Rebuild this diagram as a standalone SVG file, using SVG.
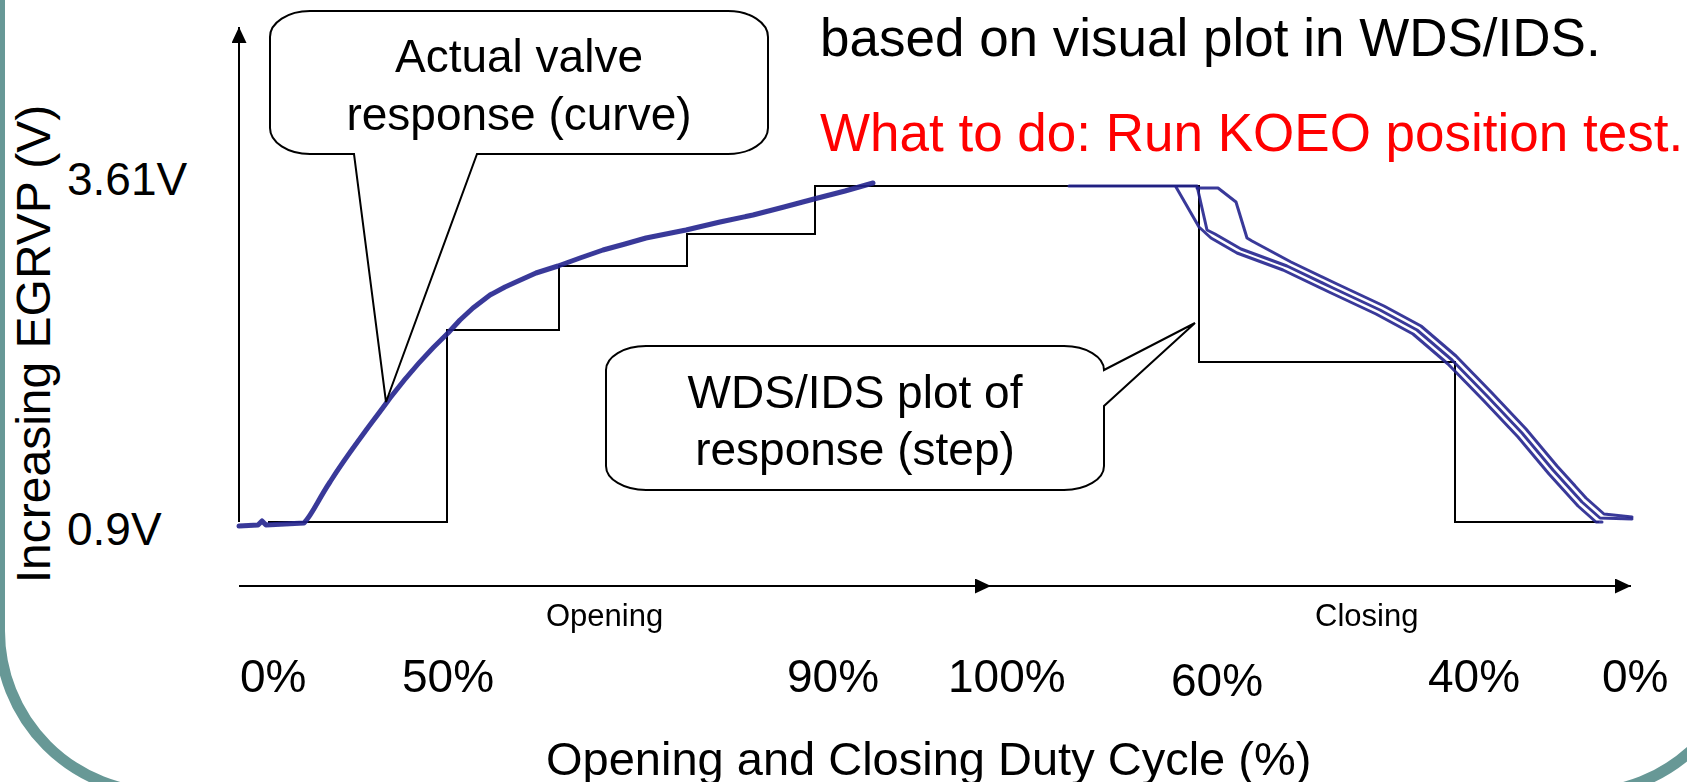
<svg xmlns="http://www.w3.org/2000/svg" width="1687" height="782" viewBox="0 0 1687 782">
<style>
text{font-family:"Liberation Sans",Arial,sans-serif;fill:#000}
.ln{fill:none;stroke:#000;stroke-width:2}
.cv{fill:none;stroke:#24248e;stroke-width:3;stroke-linejoin:round;stroke-linecap:round;opacity:.9}
.co{fill:#fff;stroke:#000;stroke-width:2;stroke-linejoin:miter}
.pct{font-size:46px}
</style>
<defs>
<marker id="ah" viewBox="0 0 16 15" refX="16" refY="7.5" markerWidth="16" markerHeight="15" markerUnits="userSpaceOnUse" orient="auto"><path d="M0,0 L16,7.5 L0,15 Z" fill="#000"/></marker>
<filter id="soft" x="-5%" y="-5%" width="110%" height="110%"><feGaussianBlur stdDeviation="0.6"/></filter>
</defs>
<rect width="1687" height="782" fill="#fff"/>
<path d="M-0.5,-20 V631 A162,162 0 0 0 161.5,793 H1582 A162,162 0 0 0 1744,631 V-20" fill="none" stroke="#679896" stroke-width="11"/>

<g id="heading">
<text x="820" y="56" font-size="53">based on visual plot in WDS/IDS.</text>
<text x="820" y="151" font-size="53" style="fill:#ff0000">What to do: Run KOEO position test.</text>
</g>

<g id="y-axis-labels">
<text x="50" y="344" font-size="48" text-anchor="middle" transform="rotate(-90 50 344)">Increasing EGRVP (V)</text>
<text x="67" y="195" font-size="46">3.61V</text>
<text x="67" y="545" font-size="46">0.9V</text>
</g>

<g id="connectors">
<path class="ln" d="M239,522 V27" marker-end="url(#ah)"/>
<path class="ln" d="M239,586 H991" marker-end="url(#ah)"/>
<path class="ln" d="M985,586 H1631" marker-end="url(#ah)"/>
</g>

<g id="step-plot">
<path class="ln" d="M268,522 H447 V330 H559 V266 H687 V234 H815 V186 H1199 V362 H1455 V522 H1599"/>
</g>

<g id="valve-curves" filter="url(#soft)">
<path class="cv" style="stroke-width:5" d="M239,526 L258,525 L262,521 L266,525 L304,523 C312,515 318,500 330,482 C350,450 372,423 390,398 C410,372 430,350 448,333 L460,320 L473,308 L490,295 L505,287 L516,282 L536,273 L558,266 L580,258 L603,250 L625,244 L646,238 L666,234 L686,230 L720,222 L753,215 L784,207 L814,199 L845,191 L873,183"/>
<path class="cv" d="M1069,186 H1197 L1207,230 L1215,234 L1241,249 L1287,266 L1333,288 L1380,310 L1417,330 L1452,360 L1488,397 L1522,433 L1553,470 L1582,502 L1600,518 L1632,519"/>
<path class="cv" d="M1176,187 L1199,227 L1211,238 L1237,253 L1283,270 L1329,292 L1376,314 L1413,334 L1448,364 L1484,401 L1518,437 L1549,474 L1578,506 L1596,522 L1602,522"/>
<path class="cv" d="M1197,188 H1218 L1236,202 L1247,238 L1252,241 L1291,262 L1337,284 L1384,306 L1421,326 L1456,356 L1492,393 L1526,429 L1557,466 L1586,498 L1604,514 L1632,517"/>
</g>

<g id="callout-actual">
<path class="co" d="M310,11 H728 A40,26 0 0 1 768,37 V128 A40,26 0 0 1 728,154 H477 L386,402 L354,154 H310 A40,26 0 0 1 270,128 V37 A40,26 0 0 1 310,11 Z"/>
<text x="519" y="72" font-size="46" text-anchor="middle">Actual valve</text>
<text x="519" y="130" font-size="46" text-anchor="middle">response (curve)</text>
</g>

<g id="callout-wds">
<path class="co" d="M646,346 H1064 A40,24 0 0 1 1104,370 L1195,323 L1104,406 V466 A40,24 0 0 1 1064,490 H646 A40,24 0 0 1 606,466 V370 A40,24 0 0 1 646,346 Z"/>
<text x="855" y="408" font-size="46" text-anchor="middle">WDS/IDS plot of</text>
<text x="855" y="465" font-size="46" text-anchor="middle">response (step)</text>
</g>

<g id="x-axis-labels">
<text x="546" y="626" font-size="31">Opening</text>
<text x="1315" y="626" font-size="31">Closing</text>
<text class="pct" x="240" y="692">0%</text>
<text class="pct" x="402" y="692">50%</text>
<text class="pct" x="787" y="692">90%</text>
<text class="pct" x="948" y="692">100%</text>
<text class="pct" x="1171" y="696">60%</text>
<text class="pct" x="1428" y="692">40%</text>
<text class="pct" x="1602" y="692">0%</text>
<text x="546" y="775" font-size="47">Opening and Closing Duty Cycle (%)</text>
</g>
</svg>
